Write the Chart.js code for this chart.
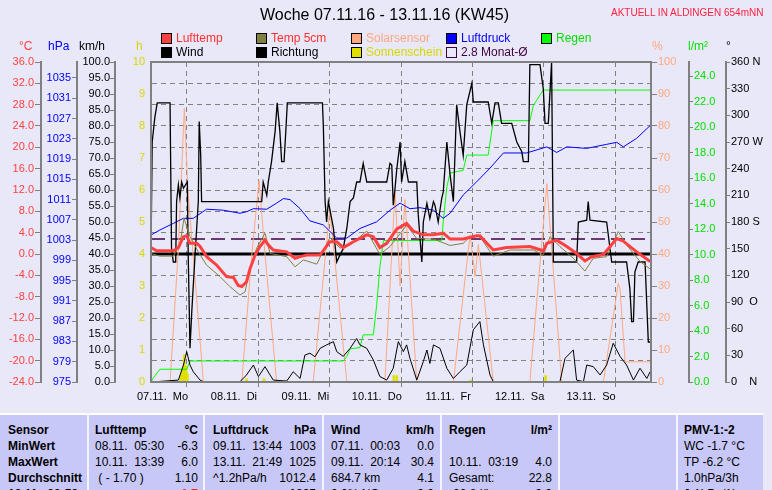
<!DOCTYPE html>
<html>
<head>
<meta charset="utf-8">
<script src="https://cdn.jsdelivr.net/npm/chart.js@4/dist/chart.umd.min.js"></script>
<style>
body{margin:0;background:#e8e8f8;font-family:"Liberation Sans",Arial,sans-serif;}
#wrap{position:relative;width:772px;height:490px;overflow:hidden;background:#e8e8f8;}
#graph{position:absolute;left:0;top:0;}
.t{position:absolute;white-space:pre;font-size:12px;line-height:14px;}
.sq{position:absolute;width:9px;height:9px;border:1px solid #000;}
#tab{position:absolute;left:0;top:413px;width:763px;height:77px;background:#c8c8f8;border-top:2px solid #fff;}
.sep{position:absolute;top:0;width:2px;height:77px;background:#f4f4ff;}
.c{position:absolute;white-space:pre;font-size:12px;line-height:16px;}
.b{font-weight:bold;}
.r{text-align:right;}
</style>
</head>
<body>
<div id="wrap">
<canvas id="graph" width="772" height="413"></canvas>

<div class="t" style="left:260px;top:6px;font-size:16px;line-height:18px;">Woche 07.11.16 - 13.11.16 (KW45)</div>
<div class="t" style="left:611px;top:7px;font-size:10px;line-height:12px;color:#ff2040;">AKTUELL IN ALDINGEN 654mNN</div>

<div class="sq" style="left:161px;top:33px;background:#ff4040;"></div><div class="t" style="left:176px;top:31px;color:#ff3030;">Lufttemp</div>
<div class="sq" style="left:256px;top:33px;background:#808040;"></div><div class="t" style="left:271px;top:31px;color:#ff3030;">Temp 5cm</div>
<div class="sq" style="left:351px;top:33px;background:#ffa880;"></div><div class="t" style="left:366px;top:31px;color:#ffa880;">Solarsensor</div>
<div class="sq" style="left:446px;top:33px;background:#0000ff;"></div><div class="t" style="left:461px;top:31px;color:#0000ff;">Luftdruck</div>
<div class="sq" style="left:541px;top:33px;background:#00ff00;"></div><div class="t" style="left:556px;top:31px;color:#00e000;">Regen</div>
<div class="sq" style="left:161px;top:47px;background:#000;"></div><div class="t" style="left:176px;top:45px;">Wind</div>
<div class="sq" style="left:256px;top:47px;background:#000;"></div><div class="t" style="left:271px;top:45px;">Richtung</div>
<div class="sq" style="left:351px;top:47px;background:#e0e000;"></div><div class="t" style="left:366px;top:45px;color:#d8d800;">Sonnenschein</div>
<div class="sq" style="left:446px;top:47px;background:transparent;border-color:#400040;"></div><div class="t" style="left:461px;top:45px;color:#400040;">2.8 Monat-Ø</div>

<div class="t" style="left:19px;top:39px;color:#ff4040;">°C</div>
<div class="t" style="left:48px;top:39px;color:#0000ff;">hPa</div>
<div class="t" style="left:79px;top:39px;">km/h</div>
<div class="t" style="left:136px;top:39px;color:#d8d800;">h</div>
<div class="t" style="left:652px;top:39px;color:#ffa880;">%</div>
<div class="t" style="left:688px;top:39px;color:#00e000;">l/m²</div>
<div class="t" style="left:726px;top:39px;">°</div>

<div id="tab">
  <div class="sep" style="left:87px"></div>
  <div class="sep" style="left:203px"></div>
  <div class="sep" style="left:322px"></div>
  <div class="sep" style="left:440px"></div>
  <div class="sep" style="left:558px"></div>
  <div class="sep" style="left:676px"></div>

  <div class="c b" style="left:8px;top:7px">Sensor
MinWert
MaxWert
Durchschnitt
13.11.  23:59</div>

  <div class="c b" style="left:95px;top:7px">Lufttemp</div>
  <div class="c" style="left:95px;top:23px">08.11.  05:30
10.11.  13:39
 ( - 1.70 )</div>
  <div class="c r" style="left:150px;width:48px;top:7px"><b>°C</b>
-6.3
6.0
1.10
<b style="color:#ff2020">-1.7</b></div>

  <div class="c b" style="left:213px;top:7px">Luftdruck</div>
  <div class="c" style="left:213px;top:23px">09.11.  13:44
13.11.  21:49
^1.2hPa/h</div>
  <div class="c r" style="left:266px;width:50px;top:7px"><b>hPa</b>
1003
1025
1012.4
<b>1025</b></div>

  <div class="c b" style="left:331px;top:7px">Wind</div>
  <div class="c" style="left:331px;top:23px">07.11.  00:03
09.11.  20:14
684.7 km
0.0% NO</div>
  <div class="c r" style="left:384px;width:50px;top:7px"><b>km/h</b>
0.0
30.4
4.1
<b>0.0</b></div>

  <div class="c b" style="left:449px;top:7px">Regen</div>
  <div class="c" style="left:449px;top:39px">10.11.  03:19
Gesamt:
-22.8 l/h</div>
  <div class="c r" style="left:502px;width:50px;top:7px"><b>l/m²</b>

4.0
22.8
<b>0.0</b></div>

  <div class="c" style="left:684px;top:7px"><b>PMV-1:-2</b>
WC -1.7 °C
TP -6.2 °C
1.0hPa/3h
0.1hPa/1h</div>
</div>
</div>

<script>
// Zeitachse: Stunden ab 07.11. 00:00
const tagLabels = ['07.11.  Mo', '08.11.  Di', '09.11.  Mi', '10.11.  Do', '11.11.  Fr', '12.11.  Sa', '13.11.  So'];
const hPaTicks = [975, 979, 983, 987, 991, 995, 999, 1003, 1007, 1011, 1015, 1019, 1023, 1027, 1031, 1035];
const regenTicks = [0, 2, 4, 6, 8, 10, 12, 14, 16, 18, 20, 22, 24];
const richtungNamen = {0: '0    N', 90: '90  O', 180: '180 S', 270: '270 W', 360: '360 N'};

const lufttempStd = [0,1.9,7.5,9.2,10.9,12.0,13.1,15.4,16.5,18.7,22.1,25.4,27.7,29.3,30.5,32.1,33.3,35.0,36.6,38.3,39.4,41.1,45.6,48.4,50.1,52.3,56.8,60.1,62.4,64.6,68.0,72.5,74.7,76.9,79.2,82.6,85.9,88.1,91.5,94.9,98.2,100.5,104.9,109.4,110.5,115.0,119.5,127.3,131.8,133.0,136.3,139.7,143.0,145.8,148.1,152.0,156.5,158.7,163.2,167.7];
const lufttemp = [1.2,0.6,0.6,1.2,3.25,3.4,2.0,2.0,1.4,-0.5,-2.1,-4.25,-4.4,-5.9,-6.1,-5.2,-2.7,-0.2,1.4,2.6,1.7,0.75,0.4,-0.8,-0.5,-0.2,-0.2,2.3,2.3,1.2,2.3,3.6,3.25,1.2,2.0,4.7,5.75,4.3,3.6,3.6,3.9,2.8,2.8,3.4,3.4,0.75,1.2,1.4,0.6,2.0,2.6,1.4,0.1,-1.3,-0.5,-0.1,2.9,2.4,0.4,-1.4];

const temp5Std = [0,3.0,7.5,9.7,11.1,13.1,15.9,18.7,23.2,26.5,29.9,31.6,33.3,35.5,38.3,40.0,45.6,48.4,51.2,55.7,60.1,63.5,66.9,72.5,76.9,80.3,85.9,89.3,94.9,100.5,104.9,107.2,110.5,115.0,120.6,128.5,131.8,134.1,137.4,141.9,145.8,148.6,153.1,157.0,159.8,164.3,167.7];
const temp5 = [0.1,-0.4,-0.4,1.7,6.7,3.25,0.4,-2.1,-4.25,-6.1,-7.7,-7.1,-2.7,1.1,3.9,0.1,-0.5,-2.4,-1.1,-1.9,3.1,1.1,1.7,4.3,-0.06,1.4,5.4,2.9,2.8,1.6,2.0,3.25,3.25,-0.4,0.75,0.75,-0.2,3.25,1.4,-0.8,-3.2,-0.8,-0.5,4.2,1.7,-1.4,-2.8];

const druckStd = [0,3.0,7.5,10.9,14.2,18.7,24.3,29.9,32.1,34.4,38.9,42.2,44.5,46.7,50.1,53.4,57.9,62.4,65.8,70.2,75.8,80.3,83.7,87.0,90.4,94.9,98.2,100.5,104.9,109.4,113.9,118.4,126.2,133.0,136.3,139.7,146.4,153.1,156.5,158.7,163.2,167.7];
const luftdruck = [1004.0,1005.0,1006.3,1007.3,1007.3,1009.1,1008.9,1008.3,1008.6,1009.2,1009.1,1010.3,1011.2,1011.0,1009.2,1006.8,1006.0,1003.4,1003.4,1005.3,1006.6,1008.9,1010.3,1009.2,1009.4,1008.9,1007.3,1008.3,1011.9,1014.5,1017.2,1020.2,1020.2,1021.4,1020.3,1021.4,1021.1,1021.9,1022.3,1021.4,1023.1,1025.6];

const regenStd = [0,0.7,3.0,12.0,13.1,64.6,65.8,66.9,70.2,71.3,74.7,75.8,76.9,78.1,97.7,98.2,99.4,100.5,104.9,106.1,113.3,115.0,127.3,128.5,130.7,131.8,167.9];
const regen = [0,0.3,1.0,1.0,1.65,1.65,2.0,2.6,2.7,3.7,3.7,6.0,9.0,11.1,11.1,12.6,15.3,16.4,16.6,17.8,17.8,20.5,20.5,21.7,22.5,22.9,22.9];

const windStd = [0.2,9.2,10.9,12.0,13.1,14.2,16.5,17.6,29.9,32.1,34.4,36.1,38.3,40.0,41.1,45.6,47.8,50.1,51.7,53.4,55.1,56.8,59.0,61.3,62.4,64.6,66.9,69.1,70.2,72.5,74.7,76.9,79.2,81.4,83.1,84.8,85.9,87.0,89.3,91.5,92.7,93.7,94.9,97.1,99.4,101.6,103.8,106.1,108.3,110.5,111.7,113.9,115.0,137.4,139.1,141.9,143.0,145.3,146.4,148.6,150.9,153.1,155.3,157.6,159.8,162.1,164.3,166.6,167.7];
const wind = [0,0.6,5.3,9.5,5.3,3.2,0.6,0.1,0.1,2.2,5.3,1.7,4.8,2.2,0.6,0.3,3.2,1.1,8.4,9.0,7.9,10.5,11.6,12.6,9.5,8.0,10.5,13.6,11.6,10.5,6.9,1.7,0.6,4.3,12.6,9.5,11.6,7.4,0.6,6.4,10.0,5.8,11.6,10.5,4.3,1.1,3.2,5.3,16.3,18.9,11.6,2.2,0.1,0.1,7.4,10.0,0.6,0.1,5.3,4.8,2.2,5.3,12.1,8.0,5.3,0.6,4.3,1.1,3.2];

const richtungStd = [0.0,0.4,1.3,2.1,6.4,6.9,7.5,8.3,8.6,9.2,9.7,10.3,10.9,12.2,12.5,13.1,13.7,14.8,15.9,16.2,16.7,17.0,37.2,37.7,38.9,39.4,40.5,41.7,42.4,43.3,43.9,44.7,45.3,45.8,57.6,57.9,58.5,59.0,59.6,61.3,62.4,63.5,64.6,65.8,66.9,68.0,69.1,70.2,71.3,72.5,79.2,80.3,80.9,81.4,82.0,82.6,83.7,84.2,85.3,86.5,89.3,89.8,91.0,91.5,92.7,93.7,94.9,95.4,96.5,97.7,98.2,99.4,100.5,101.6,102.7,103.8,104.9,106.1,107.8,108.3,113.3,114.5,115.6,116.7,117.8,121.2,122.9,124.6,125.1,126.8,127.3,130.7,131.8,132.4,133.5,134.6,135.2,143.0,143.6,146.4,146.9,147.5,153.1,154.8,159.8,160.9,161.5,162.1,162.6,163.7,166.0,167.1,167.9];
const richtung = [143,270,298,314,314,150,135,135,203,222,207,225,218,225,143,38,79,143,203,293,255,203,203,225,210,225,248,282,314,282,248,248,282,314,314,289,203,180,203,173,135,143,150,173,203,207,225,225,246,225,225,246,244,199,218,240,270,225,248,225,225,188,135,180,201,184,203,199,180,207,214,270,233,203,312,282,255,312,336,315,315,291,314,314,291,291,270,259,248,248,357,357,330,291,291,360,135,135,180,182,203,182,180,135,135,105,68,68,124,135,135,45,45];

const solarStd = [0,6.4,9.1,11.2,12.4,17.6,30.5,33.9,36.3,38.3,42.2,54.5,60.1,65.8,78.6,82.0,83.7,85.3,89.3,101.6,107.2,108.9,110.0,115.0,127.3,133.0,138.0,152.0,157.0,157.6,159.3,167.9];
const solar = [0,0,40,85.5,60,0,0,40,63,40,0,0,54,0,0,59.5,30,57,0,0,46,33,43,0,0,62,0,0,30.8,29,6.3,6.3];

const sonneStd = [10.0,10.5,11.2,11.8,12.2,32.1,38.0,81.6,82.6,107.4,132.6];
const sonne = [0.2,0.4,0.85,0.5,0.25,0.1,0.1,0.2,0.2,0.06,0.2];

const monatMittel = 2.8;
const nullLinie = 0;

function punkte(std, werte) {
  return std.map((h, i) => ({x: h, y: werte[i]}));
}

const grau = '#808080';
Chart.defaults.font.family = '"Liberation Sans", Arial, sans-serif';
Chart.defaults.font.size = 11;

// Rahmen um die Zeichenflaeche
const rahmen = {
  id: 'rahmen',
  afterDatasetsDraw(chart) {
    const {ctx, chartArea: a} = chart;
    ctx.save();
    ctx.strokeStyle = grau;
    ctx.lineWidth = 2;
    ctx.strokeRect(a.left, a.top, a.right - a.left, a.bottom - a.top);
    ctx.restore();
  }
};

function linie(label, std, werte, achse, farbe, breite, extra) {
  return Object.assign({
    label: label,
    data: punkte(std, werte),
    yAxisID: achse,
    borderColor: farbe,
    borderWidth: breite,
    pointRadius: 0,
    tension: 0,
    fill: false
  }, extra || {});
}

const ctx = document.getElementById('graph').getContext('2d');
new Chart(ctx, {
  type: 'line',
  data: {
    datasets: [
      linie('Lufttemp', lufttempStd, lufttemp, 'tC', '#ff4040', 3),
      linie('Temp 5cm', temp5Std, temp5, 'tC', '#808040', 1),
      linie('Richtung', richtungStd, richtung, 'grad', '#000000', 1.3),
      linie('Wind', windStd, wind, 'kmh', '#000000', 1),
      linie('Luftdruck', druckStd, luftdruck, 'hPa', '#0000ff', 1),
      linie('Regen', regenStd, regen, 'regen', '#00ff00', 1),
      linie('Solarsensor', solarStd, solar, 'pct', '#ffa880', 1),
      {
        type: 'bar',
        label: 'Sonnenschein',
        data: punkte(sonneStd, sonne),
        yAxisID: 'h',
        backgroundColor: '#e0e000',
        borderWidth: 0,
        barThickness: 2
      },
      linie('0 °C', [0, 168], [nullLinie, nullLinie], 'tC', '#000000', 3),
      linie('2.8 Monat-Ø', [0, 166], [monatMittel, monatMittel], 'tC', '#400040', 1.5, {borderDash: [14, 6]})
    ]
  },
  options: {
    responsive: false,
    animation: false,
    layout: {padding: {top: 62, left: 0, right: 0, bottom: 0}},
    plugins: {legend: {display: false}, tooltip: {enabled: false}},
    scales: {
      x: {
        type: 'linear', min: 0, max: 168, offset: false,
        afterFit: s => { s.height = 31; },
        afterBuildTicks: s => { s.ticks = [0, 24, 48, 72, 96, 120, 144, 168].map(v => ({value: v})); },
        ticks: {
          autoSkip: false, maxRotation: 0, color: '#000', padding: 3, labelOffset: 11.5,
          callback: v => tagLabels[v / 24] || ''
        },
        grid: {color: grau, tickLength: 5, lineWidth: 1},
        border: {display: false, dash: [5, 4]}
      },
      tC: {
        position: 'left', weight: 40, min: -24, max: 36,
        afterFit: s => { s.width = 41; },
        ticks: {autoSkip: false, stepSize: 4, color: '#ff4040', padding: 1, callback: v => v.toFixed(1)},
        grid: {color: grau, tickLength: 6},
        border: {display: true, color: grau, width: 2, dash: [5, 4]}
      },
      hPa: {
        position: 'left', weight: 30, min: 975, max: 1038.15,
        afterFit: s => { s.width = 36; },
        afterBuildTicks: s => { s.ticks = hPaTicks.map(v => ({value: v})); },
        ticks: {autoSkip: false, color: '#0000ff', padding: 1, callback: v => String(v)},
        grid: {drawOnChartArea: false, color: grau, tickLength: 5},
        border: {display: true, color: grau, width: 2}
      },
      kmh: {
        position: 'left', weight: 20, min: 0, max: 100,
        afterFit: s => { s.width = 38; },
        ticks: {autoSkip: false, stepSize: 5, color: '#000', padding: 0, callback: v => v.toFixed(1)},
        grid: {drawOnChartArea: false, color: grau, tickLength: 5},
        border: {display: true, color: grau, width: 2}
      },
      h: {
        position: 'left', weight: 10, min: 0, max: 10,
        afterFit: s => { s.width = 36; },
        ticks: {autoSkip: false, stepSize: 1, color: '#d8d800', padding: 6},
        grid: {drawOnChartArea: false, drawTicks: false},
        border: {display: false}
      },
      pct: {
        position: 'right', weight: 10, min: 0, max: 100,
        afterFit: s => { s.width = 38; },
        ticks: {autoSkip: false, stepSize: 10, color: '#ffa880', padding: 1},
        grid: {drawOnChartArea: false, color: grau, tickLength: 6},
        border: {display: false}
      },
      regen: {
        position: 'right', weight: 20, min: 0, max: 25.1,
        afterFit: s => { s.width = 37; },
        afterBuildTicks: s => { s.ticks = regenTicks.map(v => ({value: v})); },
        ticks: {autoSkip: false, color: '#00e000', padding: 1, callback: v => v.toFixed(1)},
        grid: {drawOnChartArea: false, color: grau, tickLength: 4},
        border: {display: true, color: grau, width: 2}
      },
      grad: {
        position: 'right', weight: 30, min: 0, max: 360,
        afterFit: s => { s.width = 46; },
        ticks: {autoSkip: false, stepSize: 30, color: '#000', padding: 1, callback: v => richtungNamen[v] || String(v)},
        grid: {drawOnChartArea: false, color: grau, tickLength: 4},
        border: {display: true, color: grau, width: 2}
      }
    }
  },
  plugins: [rahmen]
});
</script>
</body>
</html>
